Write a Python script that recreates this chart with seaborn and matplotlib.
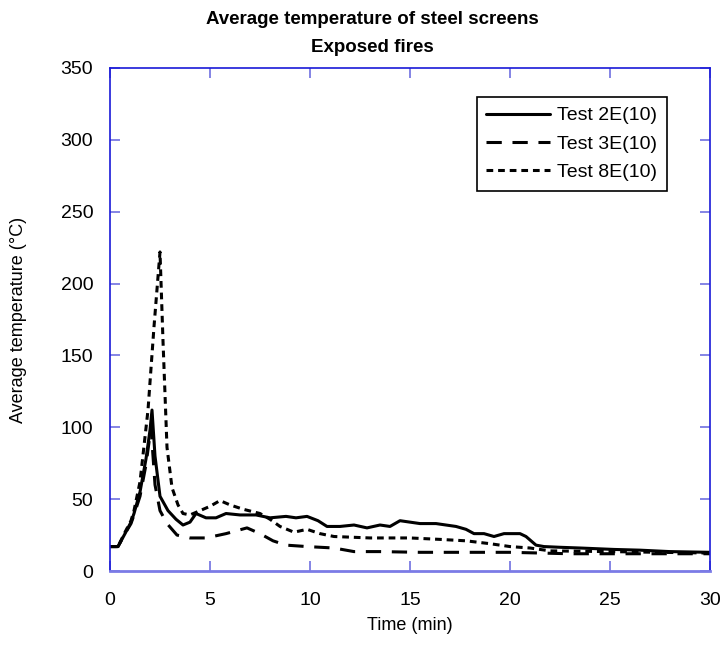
import matplotlib
matplotlib.use("Agg")
import matplotlib.pyplot as plt
import seaborn as sns
import pandas as pd
import numpy as np

# Test 2E(10) - solid
t_2e = [0, 0.4, 0.75, 1.05, 1.2, 1.5, 1.8, 2.0, 2.1, 2.25, 2.5, 2.9, 3.3, 3.65, 4.0, 4.3, 4.8, 5.3, 5.8, 6.5, 7.3, 8.0, 8.8, 9.3, 9.85, 10.4, 10.85, 11.5, 12.2, 12.85, 13.5, 14.0, 14.5, 15.0, 15.5, 16.3, 17.3, 17.8, 18.2, 18.7, 19.2, 19.7, 20.5, 20.8, 21.3, 21.7, 22.5, 23.5, 25.2, 26.5, 28.0, 30.0]
v_2e = [17, 17, 26, 34, 40, 55, 78, 98, 112, 80, 52, 42, 36, 32, 34, 40, 37, 37, 40, 39, 39, 37, 38, 37, 38, 35, 31, 31, 32, 30, 32, 31, 35, 34, 33, 33, 31, 29, 26, 26, 24, 26, 26, 24, 18, 17, 16.5, 16, 15, 14.5, 13.5, 13]

# Test 3E(10) - long dash
t_3e = [0, 0.4, 0.75, 1.05, 1.2, 1.5, 1.8, 2.05, 2.25, 2.5, 2.85, 3.35, 4.0, 4.8, 5.8, 6.85, 7.5, 8.15, 8.8, 9.85, 11.2, 12.2, 13.5, 15.5, 17.5, 20.0, 21.5, 23.0, 25.0, 27.0, 30.0]
v_3e = [17, 17, 26, 33, 39, 52, 74, 100, 60, 42, 33, 25, 23, 23, 26, 30, 26, 21, 18, 17, 16, 13.5, 13.5, 13, 13, 13, 12.5, 12, 12, 12, 12]

# Test 8E(10) - short dash
t_8e = [0, 0.4, 0.75, 1.05, 1.2, 1.5, 1.9, 2.2, 2.5, 2.65, 2.85, 3.1, 3.4, 3.65, 4.0, 4.5, 5.0, 5.5, 6.0, 6.65, 7.5, 8.0, 8.5, 9.2, 9.85, 10.5, 11.2, 13.0, 15.0, 16.5, 17.8, 19.0, 20.0, 21.0, 22.0, 25.0, 27.5, 30.0]
v_8e = [17, 17, 27, 35, 42, 62, 112, 170, 222, 160, 86, 58, 46, 40, 39, 42, 45, 49, 46, 43, 40, 36, 31, 27, 29, 26, 24, 23, 23, 22, 21, 19, 17, 16, 14, 13.5, 13, 12.5]

labels = ["Test 2E(10)", "Test 3E(10)", "Test 8E(10)"]

df = pd.concat([
    pd.DataFrame({"Time": t_2e, "Temp": v_2e, "Series": labels[0]}),
    pd.DataFrame({"Time": t_3e, "Temp": v_3e, "Series": labels[1]}),
    pd.DataFrame({"Time": t_8e, "Temp": v_8e, "Series": labels[2]}),
], ignore_index=True)

sns.set_style("white")
plt.rcParams["font.family"] = ["Liberation Sans", "DejaVu Sans"]
plt.rcParams["text.color"] = "black"
plt.rcParams["axes.labelcolor"] = "black"
plt.rcParams["xtick.color"] = "black"
plt.rcParams["ytick.color"] = "black"

fig = plt.figure(figsize=(7.24, 6.48), dpi=100)
ax = fig.add_axes([110/724, 77/648, 600/724, 503/648])

sns.lineplot(data=df, x="Time", y="Temp", hue="Series", style="Series",
             palette={l: "black" for l in labels},
             dashes={labels[0]: "", labels[1]: (5, 3.5), labels[2]: (2.2, 1.6)},
             linewidth=2.2, sort=False, estimator=None, ax=ax)

ax.set_xlim(0, 30)
ax.set_ylim(0, 350)
ax.set_xticks(np.arange(0, 31, 5))
ax.set_yticks(np.arange(0, 351, 50))
ax.tick_params(direction="in", length=7, width=1.2, color="#6f6fe0",
               labelsize=14, top=True, right=True, bottom=True, left=True,
               labelcolor="black")
ax.tick_params(axis="y", pad=12)
ax.tick_params(axis="x", pad=15)
for s in ax.spines.values():
    s.set_color("#1a1ad8")
    s.set_linewidth(1.2)
ax.spines["bottom"].set_color("#7b7be6")
ax.spines["bottom"].set_linewidth(2)

ax.set_xlabel("Time (min)", fontsize=13, labelpad=6, color="black")
ax.set_ylabel("Average temperature (°C)", fontsize=13, labelpad=24, color="black")
fig.text(372/724, 1 - 20/648, "Average temperature of steel screens",
         ha="center", va="center", fontsize=13.5, fontweight="bold", color="black")
fig.text(372/724, 1 - 47/648, "Exposed fires",
         ha="center", va="center", fontsize=13.5, fontweight="bold", color="black")

leg = ax.legend(loc="upper right", bbox_to_anchor=(557/600, 1 - 29/503),
                fontsize=14, frameon=True, fancybox=False, handlelength=3.3,
                handletextpad=0.35, borderpad=0.5, labelspacing=0.55,
                borderaxespad=0)
leg.get_frame().set_edgecolor("black")
leg.get_frame().set_linewidth(1.2)
leg.get_frame().set_alpha(1)
for t in leg.get_texts():
    t.set_color("black")

fig.savefig("out.png", dpi=100)
